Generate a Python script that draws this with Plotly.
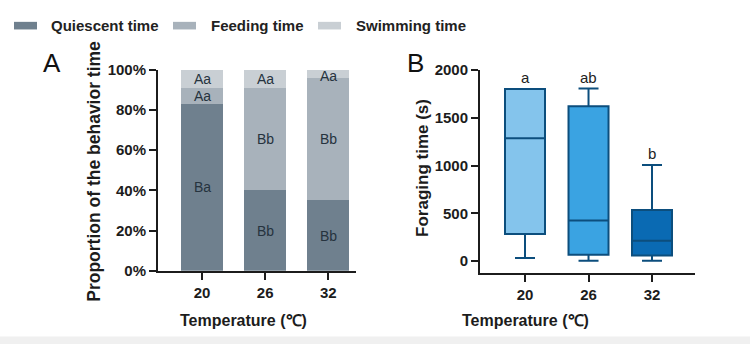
import plotly.graph_objects as go

# ---------------- data ----------------
temps = ["20", "26", "32"]
behaviors = ["Quiescent time", "Feeding time", "Swimming time"]
quiescent = [0.83, 0.40, 0.35]
feeding = [0.078, 0.51, 0.61]
swimming = [0.092, 0.09, 0.04]
letters_quiescent = ["Ba", "Bb", "Bb"]
letters_feeding = ["Aa", "Bb", "Bb"]
letters_swimming = ["Aa", "Aa", "Aa"]

box_lower = [35, 5, 5]
box_q1 = [285, 67, 60]
box_median = [1285, 425, 215]
box_q3 = [1800, 1620, 535]
box_upper = [1800, 1805, 1005]
letters_B = ["a", "ab", "b"]

# ---------------- styles ----------------
W, H = 750, 352
FONT = "Liberation Sans, Arial, sans-serif"
INK = "#1c1c1c"
bar_colors = ["#6f808e", "#a8b2bb", "#c9cfd4"]
box_fills = ["#84c4ec", "#3aa3e2", "#0a6ab3"]
box_line = "#0c4e7d"


def px_x(x):
    return x / W


def px_y(y):
    return 1 - y / H


fig = go.Figure()

series = [quiescent, feeding, swimming]
letters = [letters_quiescent, letters_feeding, letters_swimming]
for name, vals, col in zip(behaviors, series, bar_colors):
    fig.add_trace(go.Bar(x=temps, y=vals, name=name, marker=dict(color=col, line=dict(width=0)),
                         width=0.667, xaxis="x", yaxis="y", showlegend=False, hoverinfo="x+y+name"))

annotations = []
# segment letters in panel A (category axis -> use category index)
for i, t in enumerate(temps):
    base = 0.0
    for vals, labs in zip(series, letters):
        mid = base + vals[i] / 2
        base += vals[i]
        annotations.append(dict(x=i, y=min(mid, 0.972), xref="x", yref="y", text=labs[i], showarrow=False,
                                xanchor="center", yanchor="middle",
                                font=dict(family=FONT, size=14, color="#26333e")))

for i, t in enumerate(temps):
    fig.add_trace(go.Box(x=[t], q1=[box_q1[i]], median=[box_median[i]], q3=[box_q3[i]],
                         lowerfence=[box_lower[i]], upperfence=[box_upper[i]],
                         fillcolor=box_fills[i], line=dict(color=box_line, width=2),
                         whiskerwidth=0.5, width=0.63, xaxis="x2", yaxis="y2", showlegend=False,
                         name=t))
    annotations.append(dict(x=i, y=box_upper[i], xref="x2", yref="y2", text=letters_B[i], showarrow=False,
                            xanchor="center", yanchor="bottom", yshift=1,
                            font=dict(family=FONT, size=15, color="#222")))

axis_common = dict(showline=True, linewidth=2, linecolor=INK, ticks="outside", ticklen=7, tickwidth=2,
                   tickcolor=INK, showgrid=False, zeroline=False,
                   tickfont=dict(family=FONT, size=15, color=INK, weight="bold"))

fig.update_layout(
    width=W, height=H, autosize=False, margin=dict(l=0, r=0, t=0, b=0),
    paper_bgcolor="white", plot_bgcolor="white", barmode="stack", boxmode="overlay",
    showlegend=False,
    xaxis=dict(domain=[px_x(158), px_x(356)], range=[-0.698, 2.44], anchor="y", type="category",
               **axis_common),
    yaxis=dict(domain=[px_y(275), px_y(64)], range=[0, 1], anchor="x", tickvals=[0, 0.2, 0.4, 0.6, 0.8, 1.0],
               tickformat=".0%", **axis_common),
    xaxis2=dict(domain=[px_x(480), px_x(695)], range=[-0.709, 2.677], anchor="y2", type="category",
                **axis_common),
    yaxis2=dict(domain=[px_y(277), px_y(64)], range=[-119, 2000], anchor="x2",
                tickvals=[0, 500, 1000, 1500, 2000], **axis_common),
)

# legend (manual)
leg_sw_x = [14, 173, 318]
leg_tx_x = [49, 209, 354]
shapes = []
for name, col, sx, tx in zip(behaviors, bar_colors, leg_sw_x, leg_tx_x):
    shapes.append(dict(type="rect", xref="paper", yref="paper", x0=px_x(sx), x1=px_x(sx + 23),
                       y0=px_y(21.5), y1=px_y(13.5), fillcolor=col, line=dict(width=0)))
    annotations.append(dict(x=px_x(tx), y=px_y(17.5), xref="paper", yref="paper", text=name, showarrow=False,
                            xanchor="left", yanchor="middle",
                            font=dict(family=FONT, size=15, color="#222", weight="bold")))

# bottom light band
shapes.append(dict(type="rect", xref="paper", yref="paper", x0=0, x1=1, y0=0, y1=px_y(344),
                   fillcolor="#f0f0f0", line=dict(width=0), layer="below"))

# panel letters
for lab, x in (("A", 52), ("B", 415)):
    annotations.append(dict(x=px_x(x), y=px_y(57), xref="paper", yref="paper", text=lab, showarrow=False,
                            xanchor="center", yanchor="middle",
                            font=dict(family=FONT, size=26, color="#111")))

# axis titles
title_font = dict(family=FONT, size=16, color=INK, weight="bold")
for x in (244, 525):
    annotations.append(dict(x=px_x(x), y=px_y(327), xref="paper", yref="paper", text="Temperature (℃)",
                            showarrow=False, xanchor="center", yanchor="middle", font=title_font))
annotations.append(dict(x=px_x(94), y=px_y(171), xref="paper", yref="paper",
                        text="Proportion of the behavior time", textangle=-90, showarrow=False,
                        xanchor="center", yanchor="middle",
                        font=dict(family=FONT, size=17.5, color=INK, weight="bold")))
annotations.append(dict(x=px_x(423), y=px_y(167), xref="paper", yref="paper",
                        text="Foraging time (s)", textangle=-90, showarrow=False,
                        xanchor="center", yanchor="middle",
                        font=dict(family=FONT, size=17, color=INK, weight="bold")))

fig.update_layout(annotations=annotations, shapes=shapes)

fig.write_html("out.html")
